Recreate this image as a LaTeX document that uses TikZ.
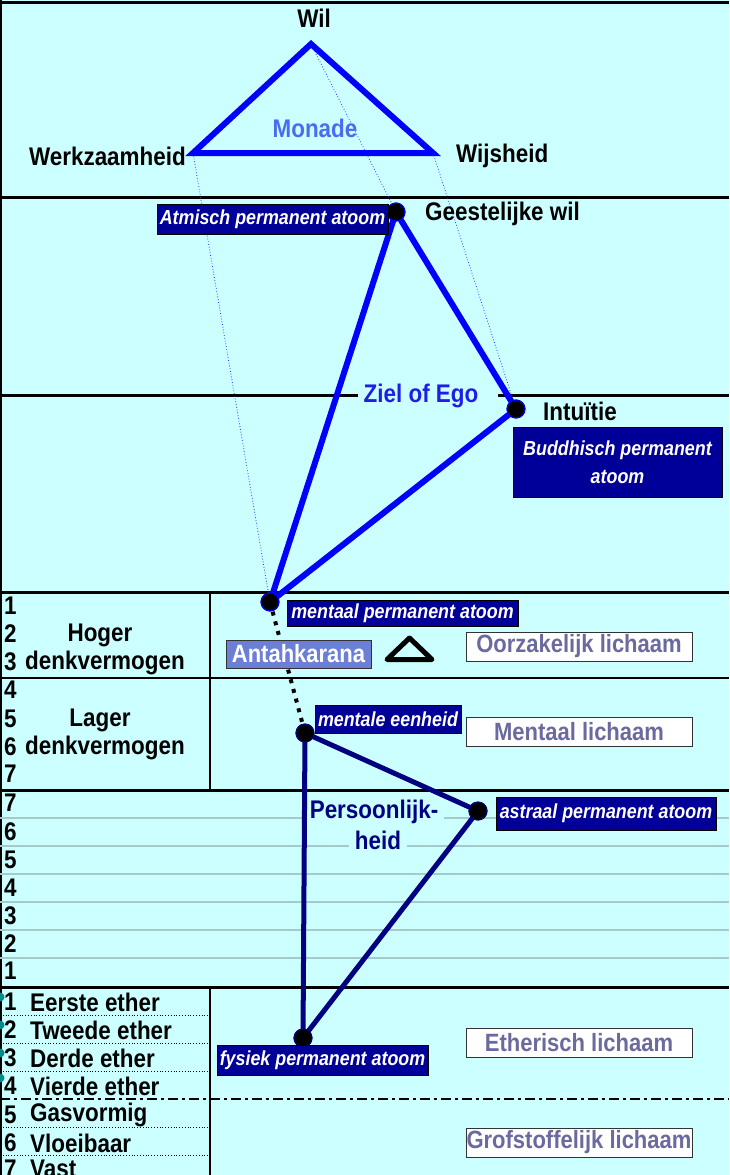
\documentclass[tikz,border=0pt]{standalone}
\usepackage{fontspec}
\setmainfont{Liberation Sans}
\newfontfamily\lblfont{Liberation Sans}[FakeStretch=0.88]
\definecolor{bg}{HTML}{CCFFFF}
\definecolor{boxnavy}{HTML}{000099}
\definecolor{pnavy}{HTML}{000080}
\definecolor{egoblue}{HTML}{0000FF}
\definecolor{monadec}{HTML}{4A6CF0}
\definecolor{zielc}{HTML}{1E1EE6}
\definecolor{antahc}{HTML}{6B7FD7}
\definecolor{bodytxt}{HTML}{6A6A9E}
\definecolor{gridgray}{HTML}{A6CACA}
\definecolor{dotteal}{HTML}{008B8B}
\tikzset{
  lbl/.style={font=\lblfont\fontsize{25.5}{29}\selectfont\bfseries, inner sep=0pt},
  num/.style={lbl, anchor=west},
  atombox/.style={fill=boxnavy, draw=black, line width=0.8pt, text=white,
    font=\lblfont\fontsize{20.3}{28}\selectfont\bfseries\itshape, inner sep=0pt, align=center},
  bodybox/.style={fill=white, draw=black!80, line width=1pt, text=bodytxt,
    font=\lblfont\fontsize{25}{28}\selectfont\bfseries, minimum width=226pt, minimum height=29pt, inner sep=0pt},
  atomdot/.style={circle, fill=black, draw=#1, line width=1pt, minimum size=18pt, inner sep=0pt},
  thickrule/.style={line width=3pt, black},
  gridline/.style={line width=1.5pt, gridgray},
  ghost/.style={line width=0.8pt, egoblue!80, dotted},
}
\begin{document}
\begin{tikzpicture}[x=1pt,y=-1pt]
\useasboundingbox (0,0) rectangle (729,1175);
\fill[bg] (0,0) rectangle (729,1175);
% borders
\draw[line width=3pt] (0,2) -- (729,2);
\draw[line width=2pt] (1,0) -- (1,1175);
% plane rules
\draw[thickrule] (0,197) -- (729,197);
\draw[thickrule] (0,395) -- (358,395);
\draw[thickrule] (498,395) -- (729,395);
\draw[thickrule] (0,592) -- (729,592);
\draw[line width=1.5pt] (0,678) -- (729,678);
\draw[thickrule] (0,790) -- (729,790);
\draw[thickrule] (0,987) -- (729,987);
\foreach \y in {818,846,874,902,930,958} \draw[gridline] (0,\y) -- (729,\y);
\draw[line width=1.5pt] (210,592) -- (210,790);
\draw[line width=1.5pt] (210,987) -- (210,1175);
\foreach \y in {1015,1043,1071,1127,1155} \draw[line width=0.8pt, dotted] (0,\y) -- (210,\y);
\draw[line width=2pt, dash pattern=on 10pt off 4pt on 3pt off 4pt] (0,1099) -- (729,1099);
\foreach \y in {997,1025,1053,1078} \fill[dotteal] (0,\y) circle (4.5pt);

% points
\coordinate (wil) at (311,44);
\coordinate (werk) at (193,153);
\coordinate (wijs) at (433,153);
\node[atomdot=egoblue] (gw) at (396,212) {};
\node[atomdot=egoblue] (int) at (516,409) {};
\node[atomdot=egoblue] (mpa) at (270,602) {};
\node[atomdot=pnavy] (me) at (305,733) {};
\node[atomdot=pnavy] (apa) at (478,811) {};
\node[atomdot=pnavy] (fpa) at (303,1038) {};

% text labels with background
\node[lbl, text=zielc, fill=bg, inner xsep=4pt, inner ysep=2pt] (ziel) at (421,396) {Ziel of Ego};
\node[lbl, text=pnavy, fill=bg, inner xsep=6pt, inner ysep=3pt] (pers1) at (374,812) {Persoonlijk-};
\node[lbl, text=pnavy, fill=bg, inner xsep=6pt, inner ysep=3pt] (pers2) at (378,840) {heid};

% ghost lines
\draw[ghost] (werk) -- (mpa.center);
\draw[ghost] (wil) -- (gw.center);
\draw[ghost] (wijs) -- (int.center);

% monad triangle
\draw[egoblue, line width=6pt, line join=miter] (wil) -- (werk) -- (wijs) -- cycle;
% ego triangle
\draw[egoblue, line width=6pt, line join=round] (gw.center) -- (int.center) -- (mpa.center) -- cycle;
% antahkarana
\draw[black, line width=4pt, dash pattern=on 4pt off 6pt] (mpa.center) -- (me.center);
% personality triangle
\draw[pnavy, line width=5pt, line join=round] (me.center) -- (apa.center) -- (fpa.center) -- cycle;

% dots on top
\foreach \n/\c in {gw/egoblue,int/egoblue,mpa/egoblue,me/pnavy,apa/pnavy,fpa/pnavy}
  \node[atomdot=\c] at (\n) {};

% monad labels
\node[lbl] (lwil) at (314,18) {Wil};
\node[lbl, anchor=east] (lwerk) at (186,156) {Werkzaamheid};
\node[lbl, anchor=west] (lwijs) at (456,156) {Wijsheid};
\node[lbl, text=monadec] (lmon) at (315,128) {Monade};
\node[lbl, anchor=west] (lgw) at (425,214) {Geestelijke wil};
\node[lbl, anchor=west] (lint) at (543,411) {Intuïtie};

% atom boxes
\node[atombox, minimum width=231pt, minimum height=30pt] (batm) at (272.5,219) {Atmisch permanent atoom};
\node[atombox, minimum width=209pt, minimum height=70pt] (bbud) at (617.5,462) {Buddhisch permanent\\atoom};
\node[atombox, minimum width=231pt, minimum height=26pt] (bmpa) at (402.5,613) {mentaal permanent atoom};
\node[atombox, minimum width=146pt, minimum height=28pt] (bme) at (388,719) {mentale eenheid};
\node[atombox, minimum width=220pt, minimum height=33pt] (bapa) at (606,813.5) {astraal permanent atoom};
\node[atombox, minimum width=211pt, minimum height=30pt] (bfpa) at (322.5,1060) {fysiek permanent atoom};

% antahkarana box and triangle symbol
\node[fill=antahc, draw=black!80, line width=1pt, text=white, font=\lblfont\fontsize{25}{28}\selectfont\bfseries,
  minimum width=145pt, minimum height=28pt, inner sep=0pt] (bant) at (298.5,654) {Antahkarana};
\draw[line width=5pt, line join=round] (387,659.5) -- (432,659.5) -- (409.5,638) -- cycle;

% body boxes
\node[bodybox] (boorz) at (579,646.5) {Oorzakelijk lichaam};
\node[bodybox] (bment) at (579,732) {Mentaal lichaam};
\node[bodybox] (bether) at (579,1043) {Etherisch lichaam};
\node[bodybox] (bgrof) at (579,1142.5) {Grofstoffelijk lichaam};

% left column: mental
\node[num] (n1) at (4,606) {1};
\node[num] (n2) at (4,634) {2};
\node[num] (n3) at (4,662) {3};
\node[lbl] (hoger) at (100,635) {Hoger};
\node[lbl] (hdenk) at (105,663) {denkvermogen};
\node[num] (n4) at (4,690) {4};
\node[num] (n5) at (4,719) {5};
\node[num] (n6) at (4,747) {6};
\node[num] (n7) at (4,774) {7};
\node[lbl] (lager) at (100,720) {Lager};
\node[lbl] (ldenk) at (105,748) {denkvermogen};
% astral
\foreach \t/\y in {7/803,6/832,5/860,4/888,3/916,2/944,1/971}
  \node[num] (a\t) at (4,\y) {\t};
% physical
\foreach \t/\y/\s in {1/1002/Eerste ether,2/1030/Tweede ether,3/1058/Derde ether,4/1086/Vierde ether,5/1115/Gasvormig,6/1143/Vloeibaar,7/1169/Vast}{
  \node[num] (p\t) at (4,\y) {\t};
  \node[num] (ps\t) at (30,\y) {\s};
}
\end{tikzpicture}
\end{document}
